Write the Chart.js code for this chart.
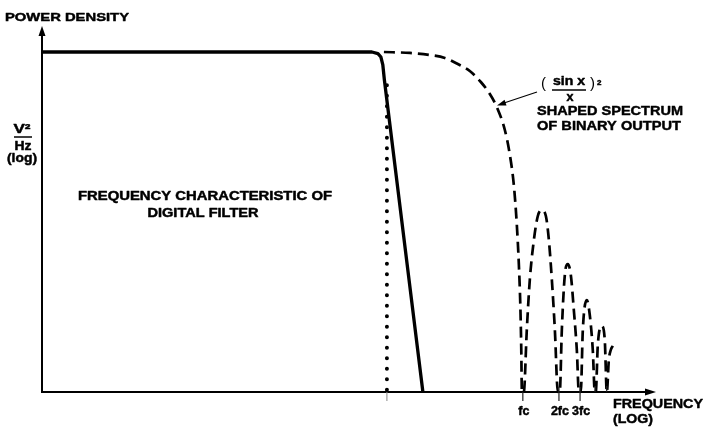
<!DOCTYPE html>
<html>
<head>
<meta charset="utf-8">
<script src="https://cdn.jsdelivr.net/npm/chart.js@4/dist/chart.umd.min.js"></script>
<style>
  html, body { margin: 0; padding: 0; background: #fff; }
  #wrap { width: 705px; height: 430px; }
</style>
</head>
<body>
<div id="wrap"><canvas id="c" width="705" height="430"></canvas></div>
<script>
// x: log10(f / fc) in decades, y: relative power density in dB (0 = passband)

// Digital filter response (solid)
const filterX = [-4.008, -1.258, -1.208, -1.183, -1.167, -1.154, -0.833];
const filterY = [0, 0, -0.13, -0.42, -1.09, -2.35, -28.57];

// (sin x / x)^2 spectrum of the binary output (dashed), main lobe then side lobes
const spectrumX = [
  -1.158, -0.942, -0.775, -0.65, -0.542, -0.442, -0.35, -0.275, -0.217, -0.15,
  -0.108, -0.075, -0.05, -0.033, -0.021, -0.013, -0.008,
  0.008, 0.033, 0.058, 0.092, 0.125, 0.158, 0.192, 0.217, 0.242, 0.267, 0.292,
  0.308, 0.325, 0.35, 0.375, 0.4, 0.425, 0.45, 0.467,
  0.483, 0.5, 0.533, 0.558, 0.583, 0.6,
  0.608, 0.625, 0.658, 0.683, 0.7,
  0.717, 0.733, 0.75
];
const spectrumY = [
  0, -0.08, -0.25, -0.5, -1.01, -1.6, -2.52, -3.53, -4.62, -6.55,
  -8.66, -11.18, -14.54, -17.9, -21.26, -25.04, -28.57,
  -28.57, -23.36, -19.16, -15.8, -13.78, -13.28, -13.78, -15.8, -19.16, -23.36, -28.57,
  -28.57, -23.36, -18.74, -17.82, -18.74, -21.68, -25.04, -28.57,
  -28.57, -23.36, -20.84, -22.1, -25.04, -28.57,
  -28.57, -24.62, -23.03, -24.2, -28.57,
  -25.88, -25.04, -24.7
];

// Filter cutoff marker (dotted)
const cutoffX = [-1.133, -1.133];
const cutoffY = [-2.8, -28.57];

// Frequency axis ticks
const tickValues = [0, 0.301, 0.477];
const tickLabels = ['fc', '2fc', '3fc'];
const minorTicks = [0.602, 0.699];
const cutoffTick = -1.133;

const xMin = -4.008, xMax = 1.21;
const yMin = -28.57, yMax = 2.27;

const pts = (xs, ys) => xs.map((x, i) => ({ x: x, y: ys[i] }));

const FONT = '"Liberation Sans", Arial, Helvetica, sans-serif';

// Heavy caption text: bold face, thickened with a thin stroke, fitted to a width
function fitText(ctx, s, x, y, size, width, align, weight) {
  ctx.font = (weight || 'bold') + ' ' + size + 'px ' + FONT;
  const w = ctx.measureText(s).width;
  const sx = width ? width / w : 1;
  ctx.save();
  ctx.translate(x, y);
  ctx.scale(sx, 1);
  ctx.textAlign = align || 'left';
  ctx.textBaseline = 'alphabetic';
  ctx.fillStyle = '#000';
  ctx.fillText(s, 0, 0);
  if (weight !== 'normal') {
    ctx.strokeStyle = '#000';
    ctx.lineWidth = 0.45;
    ctx.lineJoin = 'round';
    ctx.strokeText(s, 0, 0);
  }
  ctx.restore();
}

function arrowHead(ctx, tipX, tipY, angle, len, half) {
  ctx.save();
  ctx.translate(tipX, tipY);
  ctx.rotate(angle);
  ctx.beginPath();
  ctx.moveTo(0, 0);
  ctx.lineTo(-len, -half);
  ctx.lineTo(-len, half);
  ctx.closePath();
  ctx.fillStyle = '#000';
  ctx.fill();
  ctx.restore();
}

const diagramPlugin = {
  id: 'diagram',
  afterDatasetsDraw(chart) {
    const ctx = chart.ctx;
    const xs = chart.scales.x, ys = chart.scales.y;
    const x0 = xs.getPixelForValue(xMin);
    const yBase = ys.getPixelForValue(yMin);
    const yTop = ys.getPixelForValue(yMax);

    ctx.save();
    ctx.strokeStyle = '#000';
    ctx.lineCap = 'butt';

    // vertical axis with arrow
    ctx.lineWidth = 2;
    ctx.beginPath();
    ctx.moveTo(x0, yBase + 1);
    ctx.lineTo(x0, yTop + 8);
    ctx.stroke();
    arrowHead(ctx, x0, yTop + 1, -Math.PI / 2, 10, 3.5);

    // horizontal axis with arrow
    const xEnd = 656;
    ctx.beginPath();
    ctx.moveTo(x0 - 1, yBase);
    ctx.lineTo(xEnd - 8, yBase);
    ctx.stroke();
    arrowHead(ctx, xEnd, yBase, 0, 11, 3.5);

    // ticks
    ctx.lineWidth = 1.2;
    ctx.strokeStyle = '#222';
    tickValues.forEach((v, i) => {
      const px = xs.getPixelForValue(v);
      ctx.beginPath();
      ctx.moveTo(px, yBase - (i === 0 ? 0 : 5));
      ctx.lineTo(px, yBase + 9);
      ctx.stroke();
      fitText(ctx, tickLabels[i], px + 1, 415, 12.5, null, 'center');
    });
    ctx.strokeStyle = '#222';
    ctx.lineWidth = 1.2;
    minorTicks.forEach(v => {
      const px = xs.getPixelForValue(v);
      ctx.beginPath();
      ctx.moveTo(px, yBase - 6);
      ctx.lineTo(px, yBase);
      ctx.stroke();
    });
    ctx.strokeStyle = '#888';
    ctx.lineWidth = 1;
    const cpx = xs.getPixelForValue(cutoffTick);
    ctx.beginPath();
    ctx.moveTo(cpx, yBase);
    ctx.lineTo(cpx, yBase + 9);
    ctx.stroke();

    // axis titles
    fitText(ctx, 'POWER DENSITY', 5, 21, 11.5, 124, 'left');
    fitText(ctx, 'V²', 22, 133, 12, 17, 'center');
    ctx.strokeStyle = '#000';
    ctx.lineWidth = 1.5;
    ctx.beginPath();
    ctx.moveTo(14, 137);
    ctx.lineTo(32, 137);
    ctx.stroke();
    fitText(ctx, 'Hz', 23, 150, 12, 17, 'center');
    fitText(ctx, '(log)', 22, 162, 12, 30, 'center');

    fitText(ctx, 'FREQUENCY', 613, 408, 13, 90, 'left');
    fitText(ctx, '(LOG)', 613, 423, 13, 40, 'left');

    // filter caption
    fitText(ctx, 'FREQUENCY CHARACTERISTIC OF', 205, 200, 12, 254, 'center');
    fitText(ctx, 'DIGITAL FILTER', 203, 217, 12, 111, 'center');

    // spectrum caption
    fitText(ctx, '(', 541, 88, 15, null, 'left', 'normal');
    fitText(ctx, 'sin x', 553, 85, 12.5, 32, 'left');
    ctx.strokeStyle = '#000';
    ctx.lineWidth = 1.5;
    ctx.beginPath();
    ctx.moveTo(552, 90);
    ctx.lineTo(586, 90);
    ctx.stroke();
    fitText(ctx, 'x', 570, 101, 12.5, null, 'center');
    fitText(ctx, ')', 590, 88, 15, null, 'left', 'normal');
    fitText(ctx, '2', 597, 85, 8, null, 'left');
    fitText(ctx, 'SHAPED SPECTRUM', 537, 115, 13, 146, 'left');
    fitText(ctx, 'OF BINARY OUTPUT', 537, 130, 13, 144, 'left');

    // pointer to the dashed curve
    ctx.strokeStyle = '#000';
    ctx.lineWidth = 1.2;
    ctx.beginPath();
    ctx.moveTo(537, 92);
    ctx.lineTo(504, 103);
    ctx.stroke();
    arrowHead(ctx, 497, 105.5, Math.atan2(13.5, -40), 9, 3);

    ctx.restore();
  }
};

new Chart(document.getElementById('c'), {
  type: 'scatter',
  data: {
    datasets: [
      {
        label: 'filter',
        data: pts(filterX, filterY),
        showLine: true,
        borderColor: '#000',
        borderWidth: 3.3,
        borderJoinStyle: 'round',
        pointRadius: 0,
        clip: false
      },
      {
        label: 'spectrum',
        data: pts(spectrumX, spectrumY),
        showLine: true,
        cubicInterpolationMode: 'monotone',
        borderColor: '#000',
        borderWidth: 2.7,
        borderDash: [11, 6],
        pointRadius: 0,
        clip: false
      },
      {
        label: 'cutoff',
        data: pts(cutoffX, cutoffY),
        showLine: true,
        borderColor: '#000',
        borderWidth: 4,
        borderDash: [0, 10.5],
        borderCapStyle: 'round',
        pointRadius: 0,
        clip: false
      }
    ]
  },
  options: {
    responsive: false,
    devicePixelRatio: 1,
    animation: false,
    layout: { padding: { left: 42, right: 37, top: 25, bottom: 38 } },
    plugins: { legend: { display: false }, tooltip: { enabled: false } },
    scales: {
      x: { type: 'linear', display: false, min: xMin, max: xMax },
      y: { type: 'linear', display: false, min: yMin, max: yMax }
    }
  },
  plugins: [diagramPlugin]
});
</script>
</body>
</html>
